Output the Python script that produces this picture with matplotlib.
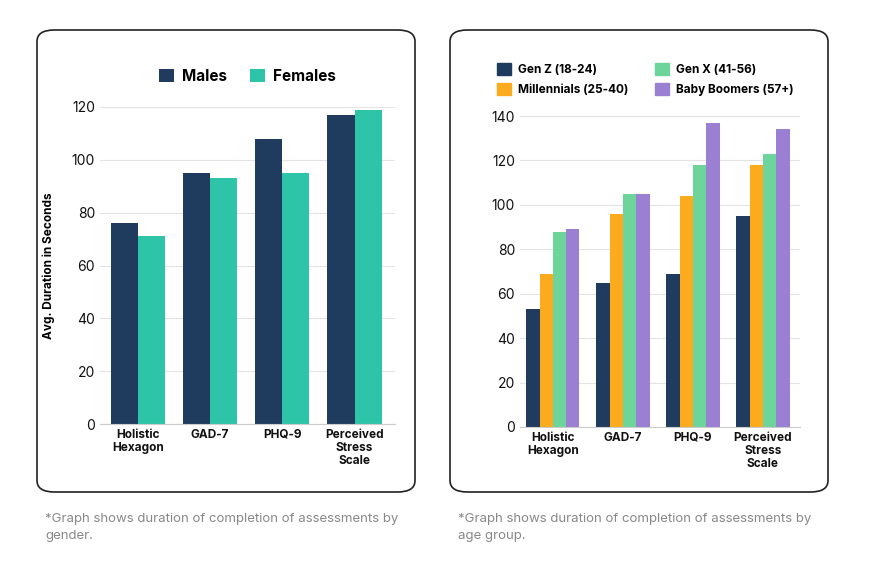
import numpy as np
from matplotlib import pyplot as plt
from matplotlib.patches import FancyBboxPatch, Patch

plt.rcParams['font.family'] = ['Inter', 'DejaVu Sans']

# Data
tests = ["Holistic\nHexagon", "GAD-7", "PHQ-9", "Perceived\nStress\nScale"]
males = [76, 95, 108, 117]
females = [71, 93, 95, 119]

age_groups = ["Gen Z (18-24)", "Millennials (25-40)", "Gen X (41-56)", "Baby Boomers (57+)"]
gen_z = [53, 65, 69, 95]
millennials = [69, 96, 104, 118]
gen_x = [88, 105, 118, 123]
boomers = [89, 105, 137, 134]

navy = "#1f3b5e"
teal = "#2ec4a7"
age_colors = [navy, "#fbab1d", "#6dd59b", "#9a7fd3"]

W, H = 872, 571
fig = plt.figure(figsize=(W / 100, H / 100), dpi=100)

def fx(px):
    return px / W

def fy(py):
    return 1 - py / H

# panel boxes
for x0, x1 in [(37, 415), (450, 828)]:
    box = FancyBboxPatch((fx(x0), fy(492)), fx(x1 - x0), (492 - 30) / H,
                         boxstyle="round,pad=0,rounding_size=0.02",
                         transform=fig.transFigure, fill=False,
                         edgecolor="#222222", linewidth=1.2)
    fig.add_artist(box)

def style(ax, ymax, step):
    ax.set_ylim(0, ymax)
    ax.set_yticks(np.arange(0, ymax + 1, step))
    for s in ["top", "right", "left"]:
        ax.spines[s].set_visible(False)
    ax.spines["bottom"].set_color("#cccccc")
    ax.yaxis.grid(True, color="#e3e3e3", linewidth=0.8)
    ax.set_axisbelow(True)
    ax.tick_params(length=0, labelsize=10, colors="#111111")
    for lbl in ax.get_xticklabels():
        lbl.set_fontweight("bold")
        lbl.set_fontsize(8.5)

# left chart
ax1 = fig.add_axes([fx(100), fy(424), fx(295), fy(107) - fy(424)])
x = np.arange(len(tests))
w = 0.375
ax1.bar(x - w / 2, males, w, color=navy, label="Males")
ax1.bar(x + w / 2, females, w, color=teal, label="Females")
ax1.set_xlim(-0.525, 3.56)
ax1.set_xticks(x)
ax1.set_xticklabels(tests, linespacing=1.1)
style(ax1, 120, 20)
ax1.set_ylabel("Avg. Duration in Seconds", fontsize=8.5, fontweight="bold", labelpad=12)
ax1.legend(loc="lower center", bbox_to_anchor=(0.5, 1.03), ncol=2, frameon=False,
           fontsize=11, handlelength=1.0, handleheight=1.0, handletextpad=0.5,
           columnspacing=1.5, prop={"weight": "bold", "size": 11})
for h in ax1.get_legend().legend_handles:
    h.set_boxstyle = None

# right chart
ax2 = fig.add_axes([fx(520), fy(427), fx(280), fy(116) - fy(427)])
w2 = 0.19
series = [gen_z, millennials, gen_x, boomers]
for i, (vals, c, name) in enumerate(zip(series, age_colors, age_groups)):
    ax2.bar(x + (i - 1.5) * w2, vals, w2, color=c, label=name)
ax2.set_xlim(-0.47, 3.53)
ax2.set_xticks(x)
ax2.set_xticklabels(tests, linespacing=1.1)
style(ax2, 140, 20)
handles = [Patch(color=c) for c in age_colors]
order = [0, 2, 1, 3]
ax2.legend([handles[i] for i in [0, 1, 2, 3]], age_groups, loc="lower left",
           bbox_to_anchor=(-0.12, 1.03), ncol=2, frameon=False,
           handlelength=1.2, handleheight=1.2, handletextpad=0.6,
           columnspacing=2.2, labelspacing=0.6, prop={"weight": "bold", "size": 8.5})

# footnotes
fig.text(fx(45), fy(513), "*Graph shows duration of completion of assessments by\ngender.",
         fontsize=9.5, color="#888888", va="top", linespacing=1.5)
fig.text(fx(458), fy(513), "*Graph shows duration of completion of assessments by\nage group.",
         fontsize=9.5, color="#888888", va="top", linespacing=1.5)

fig.savefig("out.png", dpi=100)
